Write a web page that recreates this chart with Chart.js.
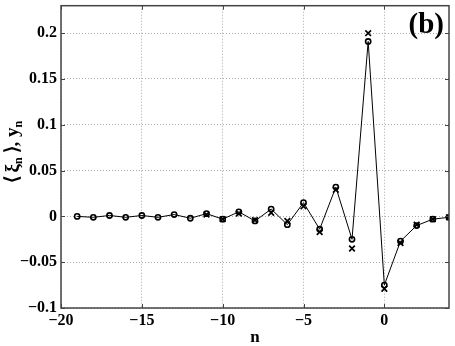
<!DOCTYPE html>
<html>
<head>
<meta charset="utf-8">
<script src="https://cdn.jsdelivr.net/npm/chart.js@4"></script>
<style>
    html, body { margin: 0; padding: 0; background: white; }
    #wrap { width: 455px; height: 346px; }
</style>
</head>
<body>
<div id="wrap"><canvas id="canvas"></canvas></div>
<script>
// data
const nValues = [-19, -18, -17, -16, -15, -14, -13, -12, -11, -10, -9, -8, -7, -6, -5, -4, -3, -2, -1, 0, 1, 2, 3, 4];
const xiMean = [0.000, -0.001, 0.001, -0.001, 0.001, -0.001, 0.002, -0.002, 0.003, -0.003, 0.005, -0.005, 0.008, -0.009, 0.015, -0.014, 0.032, -0.025, 0.191, -0.075, -0.027, -0.010, -0.003, -0.001];
const ynIndex = [-11, -10, -9, -8, -7, -6, -5, -4, -3, -2, -1, 0, 1, 2, 3, 4];
const ynValues = [0.002, -0.003, 0.003, -0.004, 0.004, -0.005, 0.011, -0.017, 0.029, -0.035, 0.200, -0.079, -0.029, -0.009, -0.003, -0.001];
const xTicks = [-20, -15, -10, -5, 0];
const yTicks = [-0.1, -0.05, 0, 0.05, 0.1, 0.15, 0.2];

const FONT = "'Liberation Serif', 'Times New Roman', serif";

function fmt(v) {
    let s = String(Math.round(v * 1000) / 1000);
    return s.replace("-", "\u2212");
}

// box, inward ticks and text labels
const frame = {
    id: "frame",
    afterDraw(chart) {
        const ctx = chart.ctx;
        const a = chart.chartArea;
        const xs = chart.scales.x, ys = chart.scales.y;
        ctx.save();
        ctx.strokeStyle = "#444";
        ctx.lineWidth = 1.5;
        ctx.strokeRect(a.left, a.top, a.right - a.left, a.bottom - a.top);
        ctx.lineWidth = 1;
        ctx.beginPath();
        xTicks.forEach(v => {
            const p = Math.round(xs.getPixelForValue(v)) + 0.5;
            ctx.moveTo(p, a.bottom); ctx.lineTo(p, a.bottom - 4);
            ctx.moveTo(p, a.top); ctx.lineTo(p, a.top + 4);
        });
        yTicks.forEach(v => {
            const p = Math.round(ys.getPixelForValue(v)) + 0.5;
            ctx.moveTo(a.left, p); ctx.lineTo(a.left + 4, p);
            ctx.moveTo(a.right, p); ctx.lineTo(a.right - 4, p);
        });
        ctx.stroke();

        ctx.fillStyle = "black";
        // panel tag
        ctx.font = "bold 29px " + FONT;
        ctx.textAlign = "right";
        ctx.textBaseline = "alphabetic";
        ctx.fillText("(b)", 444, 33);

        // x title
        ctx.font = "bold 17px " + FONT;
        ctx.textAlign = "center";
        ctx.textBaseline = "middle";
        ctx.fillText("n", (a.left + a.right) / 2, 338);

        // y title with subscripts
        const parts = [
            ["\u27E8\u2009\u03BE", false], ["n", true], ["\u2009\u27E9, y", false], ["n", true]
        ];
        ctx.translate(13, 152);
        ctx.rotate(-Math.PI / 2);
        let total = 0;
        parts.forEach(p => {
            ctx.font = p[1] ? "bold 12px " + FONT : "bold 19px " + FONT;
            total += ctx.measureText(p[0]).width;
        });
        let x = -total / 2;
        ctx.textAlign = "left";
        ctx.textBaseline = "alphabetic";
        parts.forEach(p => {
            ctx.font = p[1] ? "bold 12px " + FONT : "bold 19px " + FONT;
            ctx.fillText(p[0], x, p[1] ? 9 : 5);
            x += ctx.measureText(p[0]).width;
        });
        ctx.restore();
    }
};

const config = {
    type: "line",
    data: {
        datasets: [
            {
                label: "<xi_n>",
                data: nValues.map((n, i) => ({ x: n, y: xiMean[i] })),
                borderColor: "black",
                borderWidth: 1,
                backgroundColor: "rgba(0,0,0,0)",
                pointStyle: "circle",
                pointRadius: 2.6,
                pointBorderWidth: 1.6,
                pointBorderColor: "black",
                pointBackgroundColor: "rgba(0,0,0,0)",
                tension: 0
            },
            {
                label: "y_n",
                data: ynIndex.map((n, i) => ({ x: n, y: ynValues[i] })),
                showLine: false,
                pointStyle: "crossRot",
                pointRadius: 4,
                pointBorderWidth: 1.7,
                pointBorderColor: "black",
                borderColor: "black"
            }
        ]
    },
    options: {
        responsive: true,
        maintainAspectRatio: false,
        animation: false,
        layout: { padding: { left: 0, right: 6, top: 3, bottom: 0 } },
        plugins: { legend: { display: false }, tooltip: { enabled: false } },
        scales: {
            x: {
                type: "linear",
                min: -20,
                max: 4,
                afterBuildTicks: s => { s.ticks = xTicks.map(v => ({ value: v })); },
                afterFit: s => { s.height = 38; s.paddingRight = 0; },
                grid: { color: "#aaa", lineWidth: 1, drawTicks: false },
                border: { display: false, dash: [1, 2] },
                ticks: {
                    padding: 3,
                    color: "black",
                    font: { family: FONT, size: 16, weight: "bold" },
                    maxRotation: 0,
                    callback: v => fmt(v)
                }
            },
            y: {
                min: -0.1,
                max: 0.23,
                afterBuildTicks: s => { s.ticks = yTicks.map(v => ({ value: v })); },
                afterFit: s => { s.width = 61; s.paddingTop = 0; s.paddingBottom = 0; },
                grid: { color: "#aaa", lineWidth: 1, drawTicks: false },
                border: { display: false, dash: [1, 2] },
                ticks: {
                    padding: 4,
                    color: "black",
                    font: { family: FONT, size: 16, weight: "bold" },
                    callback: v => fmt(v)
                }
            }
        }
    },
    plugins: [frame]
};

const canvas = document.getElementById("canvas").getContext("2d");
const chart = new Chart(canvas, config);
</script>
</body>
</html>
